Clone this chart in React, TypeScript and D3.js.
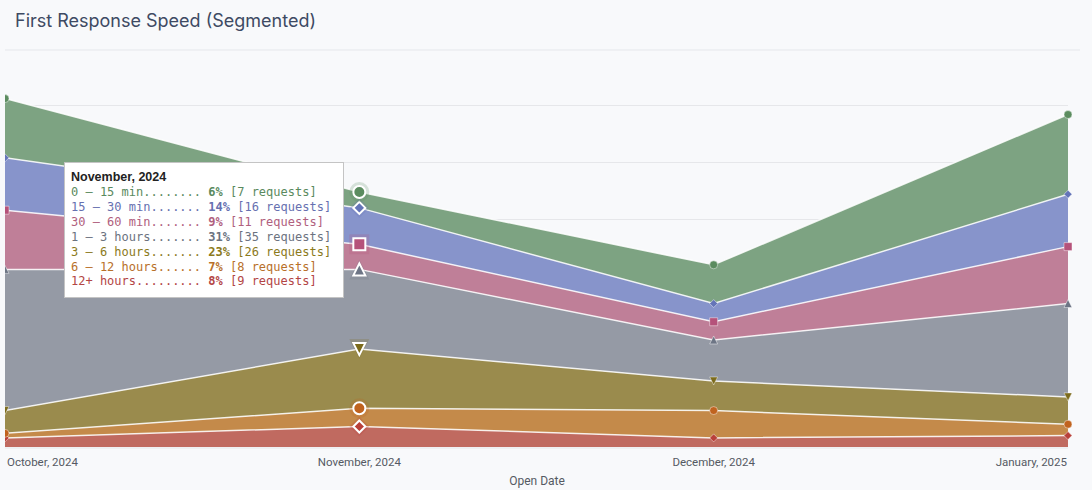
import React from "react";
import * as d3 from "d3";

const categories = ["October, 2024", "November, 2024", "December, 2024", "January, 2025"];
const seriesNames = ["0 – 15 min", "15 – 30 min", "30 – 60 min", "1 – 3 hours", "3 – 6 hours", "6 – 12 hours", "12+ hours"];
const min0to15 = [26, 7, 17, 35];
const min15to30 = [23, 16, 8, 23];
const min30to60 = [26, 11, 8, 25];
const hours1to3 = [62, 35, 18, 41];
const hours3to6 = [10, 26, 13, 12];
const hours6to12 = [2, 8, 12, 5];
const hours12plus = [4, 9, 4, 5];
const yTicks = [0, 25, 50, 75, 100, 125, 150];

const seriesValues = [min0to15, min15to30, min30to60, hours1to3, hours3to6, hours6to12, hours12plus];
const areaColors = ["#7da382", "#8794cb", "#bf7f98", "#959aa5", "#9a8b4d", "#c48a4a", "#c06a60"];
const markerColors = ["#5b8c5f", "#6474b8", "#b5527a", "#6d7585", "#7c6b1c", "#c0631f", "#b9403a"];
const textColors = ["#5a8a5e", "#6670b0", "#b0607e", "#6b7280", "#8b7a1c", "#b8702a", "#b34545"];
const shapes = ["circle", "diamond", "square", "triangle", "triangle-down", "circle", "diamond"];
const hoverIndex = 1;

function symbolPath(shape: string, r: number) {
  switch (shape) {
    case "circle":
      return `M${-r},0A${r},${r} 0 1,0 ${r},0A${r},${r} 0 1,0 ${-r},0Z`;
    case "diamond":
      return `M0,${-r}L${r},0L0,${r}L${-r},0Z`;
    case "square":
      return `M${-r},${-r}H${r}V${r}H${-r}Z`;
    case "triangle":
      return `M0,${-r}L${r},${r}H${-r}Z`;
    case "triangle-down":
      return `M${-r},${-r}H${r}L0,${r}Z`;
  }
  return "";
}

export default function App() {
  const W = 1092, H = 490;
  const left = 5, right = 1068, top = 48.5, bottom = 447;
  const x = d3.scalePoint<string>().domain(categories).range([left, right]);
  const y = d3.scaleLinear().domain([0, 175]).range([bottom, top]);

  const rows = categories.map((c, i) => {
    const o: any = { cat: c };
    seriesNames.forEach((n, s) => (o[n] = seriesValues[s][i]));
    return o;
  });
  // stack bottom-up: last series at the bottom
  const order = [...seriesNames].reverse();
  const stacked = d3.stack<any>().keys(order)(rows);
  const byName: Record<string, any> = {};
  stacked.forEach((s) => (byName[s.key] = s));

  const area = d3
    .area<any>()
    .x((d) => x(d.data.cat)!)
    .y0((d) => y(d[0]))
    .y1((d) => y(d[1]));
  const line = d3
    .line<any>()
    .x((d) => x(d.data.cat)!)
    .y((d) => y(d[1]));

  const hoverCat = categories[hoverIndex];
  const total = seriesValues.reduce((a, s) => a + s[hoverIndex], 0);
  const labelWidth = 18;

  const tipX = 64, tipY = 162, tipW = 279, tipH = 135;

  return (
    <div style={{ position: "fixed", left: 0, top: 0, width: W, height: H, background: "#f8f9fb" }}>
      <svg width={W} height={H} style={{ display: "block" }}>
        <defs>
          <clipPath id="plotClip">
            <rect x={left} y={0} width={W - left} height={bottom + 10} />
          </clipPath>
        </defs>
        <text x={15} y={27} fontFamily="Inter, 'Noto Sans', sans-serif" fontSize={18} fill="#3e4a63">
          First Response Speed (Segmented)
        </text>
        <line x1={5} x2={1080} y1={50} y2={50} stroke="#e5e7eb" strokeWidth={1} />
        {yTicks.slice(1).map((t) => (
          <line key={t} x1={left} x2={right} y1={Math.round(y(t)) + 0.5} y2={Math.round(y(t)) + 0.5} stroke="#e6e7ea" strokeWidth={1} />
        ))}
        <g clipPath="url(#plotClip)">
          {order.map((n) => {
            const s = seriesNames.indexOf(n);
            return <path key={n} d={area(byName[n])!} fill={areaColors[s]} />;
          })}
          {order.map((n) => (
            <path key={n + "l"} d={line(byName[n])!} fill="none" stroke="#ffffff" strokeOpacity={0.85} strokeWidth={1.5} />
          ))}
          {order.map((n) => {
            const s = seriesNames.indexOf(n);
            return byName[n].map((d: any, i: number) => {
              if (i === hoverIndex) return null;
              const cx = x(d.data.cat)!;
              const cy = y(d[1]);
              return (
                <path
                  key={n + i}
                  d={symbolPath(shapes[s], 4)}
                  transform={`translate(${cx},${cy})`}
                  fill={markerColors[s]}
                  stroke="#ffffff"
                  strokeOpacity={0.45}
                  strokeWidth={1}
                />
              );
            });
          })}
          {order.map((n) => {
            const s = seriesNames.indexOf(n);
            const d = byName[n][hoverIndex];
            const cx = x(d.data.cat)!;
            const cy = y(d[1]);
            return (
              <g key={n + "h"} transform={`translate(${cx},${cy})`}>
                <path d={symbolPath(shapes[s], 10)} fill={markerColors[s]} opacity={0.22} />
                <path d={symbolPath(shapes[s], 6)} fill={markerColors[s]} stroke="#ffffff" strokeWidth={2} />
              </g>
            );
          })}
        </g>
        <line x1={left} x2={right} y1={bottom + 1} y2={bottom + 1} stroke="#e6e7ea" />
        {categories.map((c, i) => {
          const anchor = i === 0 ? "start" : i === categories.length - 1 ? "end" : "middle";
          const dx = i === 0 ? 2 : i === categories.length - 1 ? -1 : 0;
          return (
            <text key={c} x={x(c)! + dx} y={466} textAnchor={anchor} fontFamily="Roboto, sans-serif" fontSize={11.5} fill="#555a63">
              {c}
            </text>
          );
        })}
        <text x={537} y={485} textAnchor="middle" fontFamily="Roboto, sans-serif" fontSize={12} fill="#555a63">
          Open Date
        </text>

        <g>
          <rect x={tipX + 0.5} y={tipY + 0.5} width={tipW} height={tipH} fill="#ffffff" stroke="#c4c4c4" strokeWidth={1} />
          <text x={71} y={181} fontFamily="'Liberation Sans', Arial, sans-serif" fontWeight="bold" fontSize={12.5} fill="#222">
            {hoverCat}
          </text>
          {seriesNames.map((n, s) => {
            const v = seriesValues[s][hoverIndex];
            const pct = Math.floor((v / total) * 100);
            const label = n.padEnd(labelWidth, ".");
            return (
              <text
                key={n + "t"}
                x={71}
                y={196.3 + s * 14.85}
                fontFamily="'DejaVu Sans Mono', monospace"
                fontSize={12}
                fill={textColors[s]}
                style={{ whiteSpace: "pre" }}
              >
                <tspan>{label + " "}</tspan>
                <tspan fontWeight="bold">{pct + "%"}</tspan>
                <tspan>{` [${v} requests]`}</tspan>
              </text>
            );
          })}
        </g>
      </svg>
    </div>
  );
}
